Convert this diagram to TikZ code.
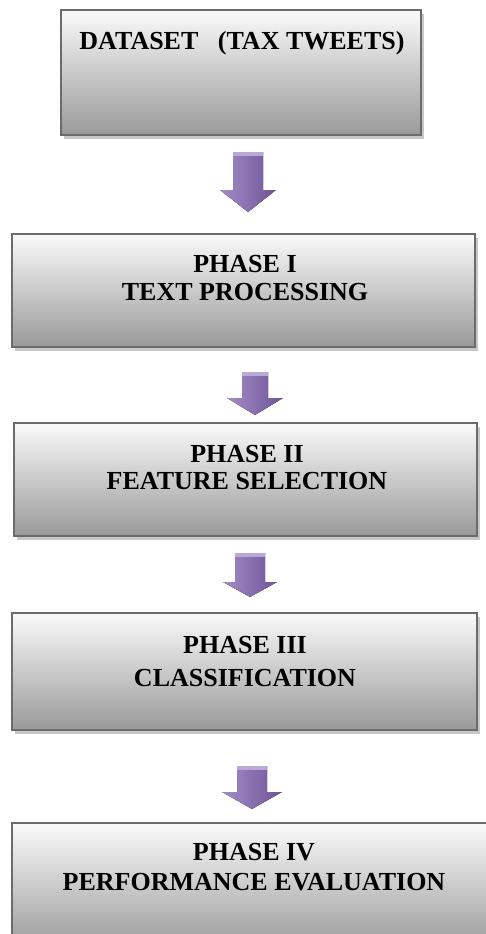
\documentclass[tikz,border=0pt]{standalone}
\usepackage{fontspec}
\setmainfont{Liberation Serif}
\usetikzlibrary{calc,shadows}

\definecolor{boxtop}{HTML}{FAFAFA}
\definecolor{boxmid}{HTML}{D9D9D9}
\definecolor{boxbot}{HTML}{999999}
\definecolor{boxline}{HTML}{6B6B6B}
\definecolor{arrL}{HTML}{A28DC6}
\definecolor{arrM}{HTML}{8B6EB3}
\definecolor{arrR}{HTML}{6F5498}
\definecolor{arrTop}{HTML}{B9A9D8}

\tikzset{
  phasebox/.style={rectangle, draw=boxline, line width=1.5pt,
    top color=boxtop, middle color=boxmid, bottom color=boxbot,
    drop shadow={shadow xshift=3pt, shadow yshift=-4pt, fill=black!22, opacity=1},
    inner sep=0pt},
  phasetext/.style={font=\bfseries\fontsize{26}{29}\selectfont, align=center,
    inner sep=0pt, anchor=base, text=black},
  arrowbody/.style={left color=arrL, middle color=arrM, right color=arrR},
  arrowcap/.style={fill=arrTop},
}

% block arrow: start, tip, head length, half stem width, half head width
\newcommand{\flowarrow}[5]{%
  \fill[arrowbody] ($(#1)+(-#4,0)$) -- ($(#1)+(#4,0)$) -- ($(#2)+(#4,-#3)$)
    -- ($(#2)+(#5,-#3)$) -- (#2) -- ($(#2)+(-#5,-#3)$) -- ($(#2)+(-#4,-#3)$) -- cycle;
  \fill[arrowcap] ($(#1)+(-#4,0)$) rectangle ($(#1)+(#4,4)$);
}

\begin{document}
\begin{tikzpicture}[x=1pt, y=-1pt]
  \useasboundingbox (0,0) rectangle (486,934);

  % boxes
  \node[phasebox, minimum width=360pt, minimum height=125pt] (b1) at (241,72.5) {};
  \node[phasebox, minimum width=463pt, minimum height=113pt] (b2) at (243.5,290.5) {};
  \node[phasebox, minimum width=463pt, minimum height=113pt] (b3) at (245.5,479.5) {};
  \node[phasebox, minimum width=465pt, minimum height=117pt] (b4) at (244.5,671.5) {};
  \node[phasebox, minimum width=488pt, minimum height=127pt] (b5) at (256,886.5) {};

  % labels (base anchor sits on the last line)
  \node[phasetext] (t1) at (242,50) {DATASET\ \ \ (TAX TWEETS)};
  \node[phasetext] (t2) at (245,300) {PHASE I\\[-1pt]TEXT PROCESSING};
  \node[phasetext] (t3) at (247,489) {PHASE II\\[-2pt]FEATURE SELECTION};
  \node[phasetext] (t4) at (245,686) {PHASE III\\[4pt]CLASSIFICATION};
  \node[phasetext] (t5) at (254,890) {PHASE IV\\[1pt]PERFORMANCE EVALUATION};

  % connectors
  \coordinate (a1s) at (248,152); \coordinate (a1e) at (248,212);
  \coordinate (a2s) at (255,372); \coordinate (a2e) at (255,415);
  \coordinate (a3s) at (250,553); \coordinate (a3e) at (250,597);
  \coordinate (a4s) at (252,766); \coordinate (a4e) at (252,809);
  \flowarrow{a1s}{a1e}{22}{15}{28}
  \flowarrow{a2s}{a2e}{17}{13}{28}
  \flowarrow{a3s}{a3e}{15}{15}{27}
  \flowarrow{a4s}{a4e}{17}{15}{30}
\end{tikzpicture}
\end{document}
